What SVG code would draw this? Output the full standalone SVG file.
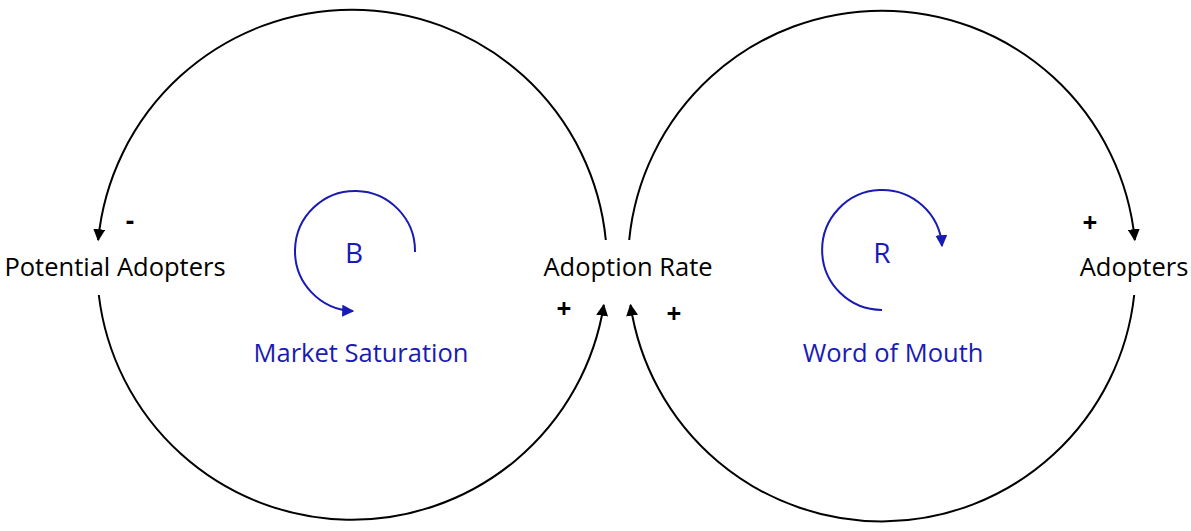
<svg xmlns="http://www.w3.org/2000/svg" width="1191" height="531" viewBox="0 0 1191 531">
<style>
.c{fill:none;stroke:#000;stroke-width:2}
.l{fill:none;stroke:#1a1ab4;stroke-width:2}
text{font-family:"Open Sans","Liberation Sans",sans-serif;font-size:25.5px;text-anchor:middle}
.b{fill:#1a1ab4}
.s{font-size:26px;font-weight:bold}
</style>
<defs>
<marker id="a" viewBox="0 0 10 10" refX="9" refY="5" markerWidth="6" markerHeight="6" orient="auto"><path d="M0,0L10,5L0,10z" fill="#000"/></marker>
<marker id="ab" viewBox="0 0 10 10" refX="9" refY="5" markerWidth="6" markerHeight="6" orient="auto"><path d="M0,0L10,5L0,10z" fill="#1a1ab4"/></marker>
</defs>
<rect width="1191" height="531" fill="#fff"/>
<g id="connectors">
<path class="c" d="M605.8 240 A255 255 0 0 0 98.2 240" marker-end="url(#a)"/>
<path class="c" d="M98.8 295 A255 255 0 0 0 603.8 305" marker-end="url(#a)"/>
<path class="c" d="M629.2 240 A254 254 0 0 1 1134.8 240" marker-end="url(#a)"/>
<path class="c" d="M1134.2 295 A254 254 0 0 1 630.5 305" marker-end="url(#a)"/>
<text class="s" x="130" y="230">-</text>
<text class="s" x="564" y="318">+</text>
<text class="s" x="674" y="323">+</text>
<text class="s" x="1090" y="232">+</text>
</g>
<g id="potential"><text x="115" y="276">Potential Adopters</text></g>
<g id="rate"><text x="628" y="276">Adoption Rate</text></g>
<g id="adopters"><text x="1134" y="276">Adopters</text></g>
<g id="loopB">
<path class="l" d="M415 252 A60 60 0 1 0 353 311" marker-end="url(#ab)"/>
<text class="b" x="354" y="263" style="font-size:28px">B</text>
<text class="b" x="361" y="362">Market Saturation</text>
</g>
<g id="loopR">
<path class="l" d="M882 310 A60 60 0 1 1 942 246" marker-end="url(#ab)"/>
<text class="b" x="882" y="263" style="font-size:28px">R</text>
<text class="b" x="893" y="362">Word of Mouth</text>
</g>
</svg>
